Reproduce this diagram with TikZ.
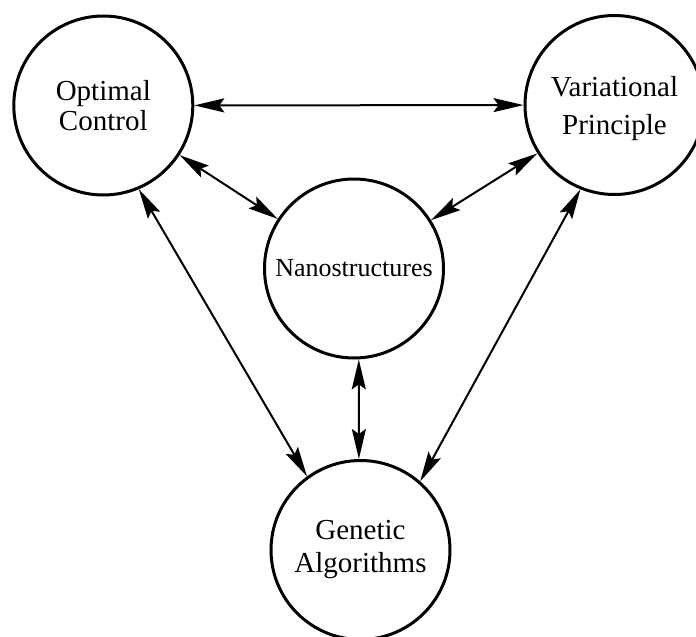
\documentclass[tikz,border=0pt]{standalone}
\usepackage{fontspec}
\setmainfont{Liberation Serif}
\usetikzlibrary{arrows.meta}
\tikzset{
  topic/.style={draw, circle, line width=3pt, minimum size=179pt, inner sep=0pt, align=center,
    font=\fontsize{29}{30}\selectfont},
  link/.style={line width=2pt, {Stealth[length=30pt,width=14pt,inset=5pt]}-{Stealth[length=30pt,width=14pt,inset=5pt]}}
}
\begin{document}
\begin{tikzpicture}[x=1pt,y=-1pt]
\useasboundingbox (0,0) rectangle (696,637);
\node[topic] (oc) at (103.3,105.5) {Optimal\\Control};
\node[topic, font=\fontsize{29}{38}\selectfont, text depth=0pt] (vp) at (614.5,105) {Variational\\Principle};
\node[topic, font=\fontsize{26}{30}\selectfont] (nano) at (354,268.5) {Nanostructures};
\node[topic, font=\fontsize{29}{33}\selectfont] (ga) at (360.5,550) {Genetic\\Algorithms};
\draw[link] (oc) -- (vp);
\draw[link] (oc) -- (nano);
\draw[link] (vp) -- (nano);
\draw[link] (oc.-67) -- (ga.126);
\draw[link] (vp.248) -- (ga.49);
\draw[link] (nano.-87) -- (ga.91);
\end{tikzpicture}
\end{document}
